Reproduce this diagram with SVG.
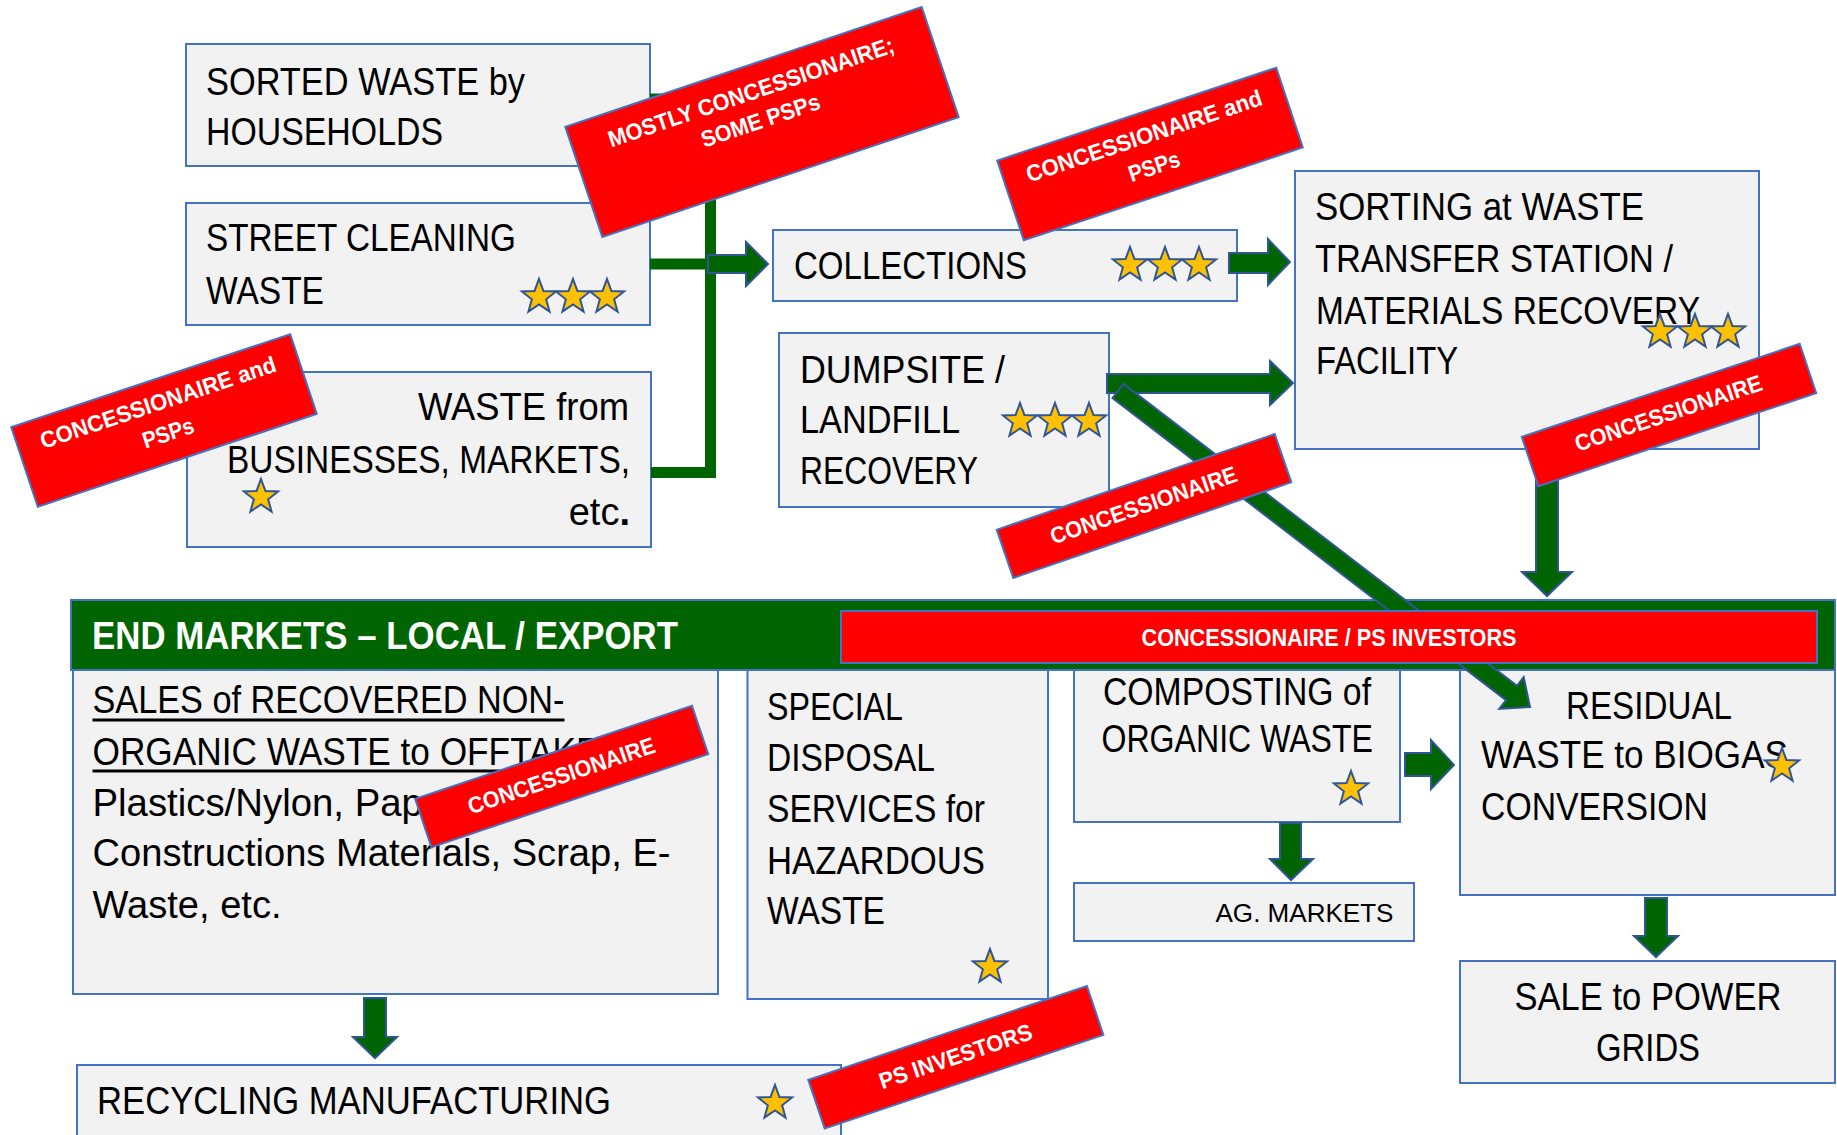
<svg xmlns="http://www.w3.org/2000/svg" xmlns:xlink="http://www.w3.org/1999/xlink" width="1837" height="1135" viewBox="0 0 1837 1135">
<style>
.box{fill:#F2F2F2;stroke:#4472C4;stroke-width:2}
.t{font-family:"Liberation Sans",Arial,sans-serif;font-size:38px;fill:#000}
.lbl{fill:#FF0000;stroke:#4472C4;stroke-width:2}
.lt{font-family:"Liberation Sans",Arial,sans-serif;font-weight:bold;font-size:23px;fill:#FFFFFF;text-anchor:middle}
.arr{fill:#006400;stroke:#2F5597;stroke-width:2;stroke-linejoin:miter}
.br{fill:none;stroke:#006400;stroke-width:11}
.star{fill:#FFC000;stroke:#2F5597;stroke-width:2;stroke-linejoin:miter}
</style>
<defs>
<polygon id="star" class="star" points="0,-18 4.41,-6.07 17.12,-5.56 7.13,2.32 10.58,14.56 0,7.5 -10.58,14.56 -7.13,2.32 -17.12,-5.56 -4.41,-6.07"/>
</defs>
<rect width="1837" height="1135" fill="#FFFFFF"/>

<g id="sorted-waste">
<rect class="box" x="186" y="44" width="464" height="122"/>
<text class="t" x="206" y="95" textLength="319" lengthAdjust="spacingAndGlyphs">SORTED WASTE by</text>
<text class="t" x="206" y="145" textLength="237" lengthAdjust="spacingAndGlyphs">HOUSEHOLDS</text>
</g>

<g id="street-cleaning">
<rect class="box" x="186" y="203" width="464" height="122"/>
<text class="t" x="206" y="251" textLength="310" lengthAdjust="spacingAndGlyphs">STREET CLEANING</text>
<text class="t" x="206" y="304" textLength="118" lengthAdjust="spacingAndGlyphs">WASTE</text>
<use href="#star" x="539" y="297"/>
<use href="#star" x="573" y="297"/>
<use href="#star" x="607" y="297"/>
</g>

<g id="waste-businesses">
<rect class="box" x="187" y="372" width="464" height="175"/>
<text class="t" x="418" y="420" textLength="211" lengthAdjust="spacingAndGlyphs">WASTE from</text>
<text class="t" x="227" y="472.5" textLength="403" lengthAdjust="spacingAndGlyphs">BUSINESSES, MARKETS,</text>
<text class="t" x="630" y="525" text-anchor="end">etc<tspan font-weight="bold">.</tspan></text>
<use href="#star" x="261" y="497"/>
</g>

<g id="collections">
<rect class="box" x="773" y="230" width="464" height="71"/>
<text class="t" x="794" y="279" textLength="233" lengthAdjust="spacingAndGlyphs">COLLECTIONS</text>
<use href="#star" x="1130" y="265"/>
<use href="#star" x="1165" y="265"/>
<use href="#star" x="1199" y="265"/>
</g>

<g id="dumpsite">
<rect class="box" x="779" y="333" width="330" height="174"/>
<text class="t" x="800" y="383" textLength="205" lengthAdjust="spacingAndGlyphs">DUMPSITE /</text>
<text class="t" x="800" y="433" textLength="160" lengthAdjust="spacingAndGlyphs">LANDFILL</text>
<text class="t" x="800" y="484" textLength="178" lengthAdjust="spacingAndGlyphs">RECOVERY</text>
<use href="#star" x="1020" y="421"/>
<use href="#star" x="1055" y="421"/>
<use href="#star" x="1089" y="421"/>
</g>

<g id="sorting-station">
<rect class="box" x="1295" y="171" width="464" height="278"/>
<text class="t" x="1315" y="219.5" textLength="329" lengthAdjust="spacingAndGlyphs">SORTING at WASTE</text>
<text class="t" x="1315" y="271.5" textLength="358" lengthAdjust="spacingAndGlyphs">TRANSFER STATION /</text>
<text class="t" x="1316" y="323.5" textLength="384" lengthAdjust="spacingAndGlyphs">MATERIALS RECOVERY</text>
<text class="t" x="1316" y="374" textLength="142" lengthAdjust="spacingAndGlyphs">FACILITY</text>
<use href="#star" x="1660" y="332"/>
<use href="#star" x="1695" y="332"/>
<use href="#star" x="1728" y="332"/>
</g>

<g id="end-markets">
<rect x="71" y="600" width="1764" height="70" fill="#006400" stroke="#4472C4" stroke-width="2"/>
<text x="92" y="648.5" font-family="Liberation Sans, Arial, sans-serif" font-weight="bold" font-size="38" fill="#FFFFFF" textLength="586" lengthAdjust="spacingAndGlyphs">END MARKETS – LOCAL / EXPORT</text>
</g>

<g id="sales-recovered">
<rect class="box" x="73" y="670" width="645" height="324"/>
<text class="t" x="92.5" y="713" textLength="472" lengthAdjust="spacingAndGlyphs">SALES of RECOVERED NON-</text>
<line x1="92.5" y1="720" x2="564.5" y2="720" stroke="#000" stroke-width="2.8"/>
<text class="t" x="92.5" y="765" textLength="556" lengthAdjust="spacingAndGlyphs">ORGANIC WASTE to OFFTAKERS</text>
<line x1="92.5" y1="771" x2="640" y2="771" stroke="#000" stroke-width="2.8"/>
<text class="t" x="92.5" y="815.5" textLength="373" lengthAdjust="spacingAndGlyphs">Plastics/Nylon, Paper,</text>
<text class="t" x="92.5" y="866" textLength="578" lengthAdjust="spacingAndGlyphs">Constructions Materials, Scrap, E-</text>
<text class="t" x="92.5" y="917.5" textLength="189" lengthAdjust="spacingAndGlyphs">Waste, etc.</text>
</g>

<g id="special-disposal">
<rect class="box" x="747.5" y="670" width="300.5" height="329"/>
<text class="t" x="767" y="720" textLength="136" lengthAdjust="spacingAndGlyphs">SPECIAL</text>
<text class="t" x="767" y="771" textLength="168" lengthAdjust="spacingAndGlyphs">DISPOSAL</text>
<text class="t" x="767" y="822" textLength="218" lengthAdjust="spacingAndGlyphs">SERVICES for</text>
<text class="t" x="767" y="873.5" textLength="218" lengthAdjust="spacingAndGlyphs">HAZARDOUS</text>
<text class="t" x="767" y="924" textLength="118" lengthAdjust="spacingAndGlyphs">WASTE</text>
<use href="#star" x="990" y="967"/>
</g>

<g id="composting">
<rect class="box" x="1074" y="670" width="326" height="152"/>
<text class="t" x="1103" y="705" textLength="268" lengthAdjust="spacingAndGlyphs">COMPOSTING of</text>
<text class="t" x="1101.5" y="752" textLength="271.5" lengthAdjust="spacingAndGlyphs">ORGANIC WASTE</text>
<use href="#star" x="1351" y="789"/>
</g>

<g id="ag-markets">
<rect class="box" x="1074" y="883" width="340" height="58"/>
<text class="t" x="1215.5" y="922" style="font-size:26px" textLength="178" lengthAdjust="spacingAndGlyphs">AG. MARKETS</text>
</g>

<g id="residual-biogas">
<rect class="box" x="1460" y="670" width="375" height="225"/>
<text class="t" x="1566" y="718.5" textLength="166" lengthAdjust="spacingAndGlyphs">RESIDUAL</text>
<text class="t" x="1481" y="768" textLength="307" lengthAdjust="spacingAndGlyphs">WASTE to BIOGAS</text>
<text class="t" x="1481" y="819.5" textLength="227" lengthAdjust="spacingAndGlyphs">CONVERSION</text>
<use href="#star" x="1782" y="766"/>
</g>

<g id="sale-power">
<rect class="box" x="1460" y="961" width="375" height="122"/>
<text class="t" x="1514.5" y="1010" textLength="267" lengthAdjust="spacingAndGlyphs">SALE to POWER</text>
<text class="t" x="1596" y="1060.5" textLength="104" lengthAdjust="spacingAndGlyphs">GRIDS</text>
</g>

<g id="recycling">
<rect class="box" x="77" y="1065" width="764" height="90"/>
<text class="t" x="97" y="1114" textLength="514" lengthAdjust="spacingAndGlyphs">RECYCLING MANUFACTURING</text>
<use href="#star" x="775" y="1103"/>
</g>

<g id="connectors">
<polyline class="br" points="650,99 710.5,99"/>
<polyline class="br" points="650,264 710.5,264"/>
<polyline class="br" points="651,472.5 710.5,472.5"/>
<line class="br" x1="710.5" y1="93.5" x2="710.5" y2="478"/>
<polygon class="arr" points="708,255 746,255 746,242 768,264 746,286 746,273 708,273"/>
<polygon class="arr" points="1229,253 1268,253 1268,239 1290,262 1268,285 1268,273 1229,273"/>
<polygon class="arr" points="1107,374 1270,374 1270,361 1293,383 1270,405 1270,393 1107,393"/>
<polygon class="arr" points="1536,450 1558,450 1558,572 1572,572 1547,596 1522,572 1536,572"/>
<polygon class="arr" points="1123.5,383.9 1517,685.9 1523.7,677.1 1530,707 1499.3,708.9 1506,700.1 1112.5,398.1"/>
<polygon class="arr" points="364,998 386,998 386,1037 397,1037 375,1058 353,1037 364,1037"/>
<polygon class="arr" points="1405,753 1431,753 1431,740 1454,765 1431,789 1431,776 1405,776"/>
<polygon class="arr" points="1280,823 1301,823 1301,859 1313,859 1291,880 1270,859 1280,859"/>
<polygon class="arr" points="1645,898 1667,898 1667,936 1678,936 1656,957 1634,936 1645,936"/>
</g>

<g id="end-markets-owner">
<rect class="lbl" x="841" y="611" width="976" height="52"/>
<text class="lt" x="1329" y="645.5" style="font-size:24px" textLength="375" lengthAdjust="spacingAndGlyphs">CONCESSIONAIRE / PS INVESTORS</text>
</g>

<g id="label-mostly" transform="translate(762,122) rotate(-18.6)">
<rect class="lbl" x="-188" y="-58" width="376" height="116"/>
<text class="lt" x="-1" y="-24" textLength="300" lengthAdjust="spacingAndGlyphs">MOSTLY CONCESSIONAIRE;</text>
<text class="lt" x="-1" y="6" textLength="124" lengthAdjust="spacingAndGlyphs">SOME PSPs</text>
</g>

<g id="label-collections" transform="translate(1150,154) rotate(-18.4)">
<rect class="lbl" x="-147" y="-42" width="294" height="84"/>
<text class="lt" x="0" y="-11" textLength="247" lengthAdjust="spacingAndGlyphs">CONCESSIONAIRE and</text>
<text class="lt" x="0" y="21" textLength="53" lengthAdjust="spacingAndGlyphs">PSPs</text>
</g>

<g id="label-businesses" transform="translate(164,420.5) rotate(-18.4)">
<rect class="lbl" x="-147" y="-42" width="294" height="84"/>
<text class="lt" x="0" y="-11" textLength="247" lengthAdjust="spacingAndGlyphs">CONCESSIONAIRE and</text>
<text class="lt" x="0" y="21" textLength="53" lengthAdjust="spacingAndGlyphs">PSPs</text>
</g>

<g id="label-sorting" transform="translate(1669,415) rotate(-18.5)">
<rect class="lbl" x="-146.5" y="-26" width="293" height="52"/>
<text class="lt" x="0" y="6" textLength="196" lengthAdjust="spacingAndGlyphs">CONCESSIONAIRE</text>
</g>

<g id="label-dumpsite" transform="translate(1144,506) rotate(-19)">
<rect class="lbl" x="-147" y="-25.5" width="294" height="51"/>
<text class="lt" x="0" y="7" textLength="196" lengthAdjust="spacingAndGlyphs">CONCESSIONAIRE</text>
</g>

<g id="label-sales" transform="translate(561.7,776.5) rotate(-18.6)">
<rect class="lbl" x="-146" y="-25.5" width="292" height="51"/>
<text class="lt" x="0" y="7" textLength="196" lengthAdjust="spacingAndGlyphs">CONCESSIONAIRE</text>
</g>

<g id="label-recycling" transform="translate(955.8,1057.3) rotate(-18.6)">
<rect class="lbl" x="-147" y="-25.75" width="294" height="51.5"/>
<text class="lt" x="0" y="7" textLength="160" lengthAdjust="spacingAndGlyphs">PS INVESTORS</text>
</g>
</svg>
